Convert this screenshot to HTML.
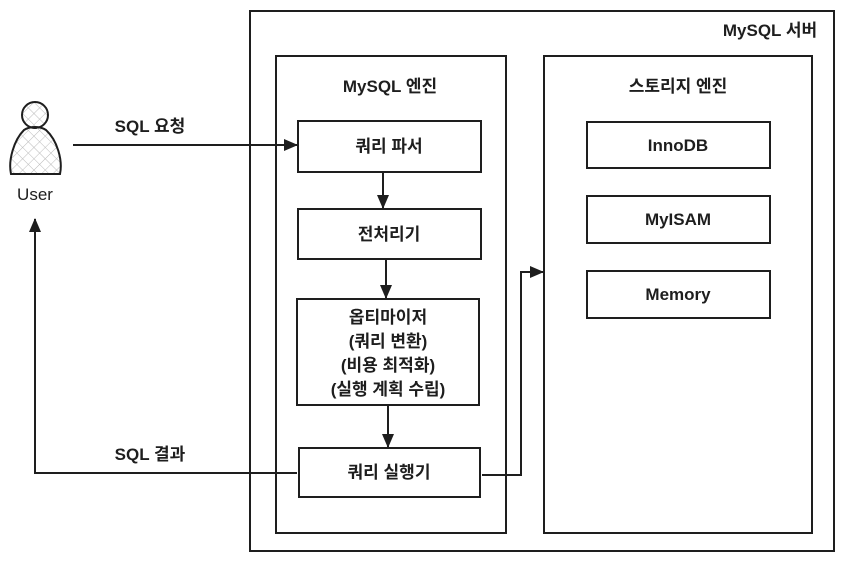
<!DOCTYPE html>
<html><head><meta charset="utf-8"><style>
html,body{margin:0;padding:0;background:#fff;}
svg{display:block;}
text{font-family:"Liberation Sans","Noto Sans CJK KR",sans-serif;font-weight:bold;font-size:17px;fill:#1e1e1e;text-anchor:middle;}
</style></head><body>
<svg width="844" height="561" viewBox="0 0 844 561" xmlns="http://www.w3.org/2000/svg">
<defs>
<pattern id="hatch" width="8" height="8" patternUnits="userSpaceOnUse" patternTransform="rotate(45)">
<line x1="0" y1="0" x2="0" y2="8" stroke="#bbb" stroke-width="1"/>
<line x1="0" y1="0" x2="8" y2="0" stroke="#bbb" stroke-width="1"/>
</pattern>
<marker id="ah" markerWidth="14" markerHeight="12" refX="13" refY="6" orient="auto" markerUnits="userSpaceOnUse">
<path d="M0,0 L14,6 L0,12 Z" fill="#1e1e1e"/>
</marker>
</defs>
<g fill="none" stroke="#1e1e1e" stroke-width="2">
<rect x="250" y="11" width="584" height="540"/>
<rect x="276" y="56" width="230" height="477"/>
<rect x="544" y="56" width="268" height="477"/>
<rect x="298" y="121" width="183" height="51"/>
<rect x="298" y="209" width="183" height="50"/>
<rect x="297" y="299" width="182" height="106"/>
<rect x="299" y="448" width="181" height="49"/>
<rect x="587" y="122" width="183" height="46"/>
<rect x="587" y="196" width="183" height="47"/>
<rect x="587" y="271" width="183" height="47"/>
<circle cx="35" cy="115" r="13" fill="url(#hatch)"/>
<path d="M24,130 C14,140 8,160 11,174 L60,174 C63,160 57,140 46,130 C40,126 30,126 24,130 Z" fill="url(#hatch)"/>
<line x1="73" y1="145" x2="297" y2="145" marker-end="url(#ah)"/>
<line x1="383" y1="172" x2="383" y2="208" marker-end="url(#ah)"/>
<line x1="386" y1="259" x2="386" y2="298" marker-end="url(#ah)"/>
<line x1="388" y1="405" x2="388" y2="447" marker-end="url(#ah)"/>
<polyline points="297,473 35,473 35,219" marker-end="url(#ah)"/>
<polyline points="482,475 521,475 521,272 543,272" marker-end="url(#ah)"/>
</g>
<text x="770" y="36">MySQL 서버</text>
<text x="390" y="92">MySQL 엔진</text>
<text x="678" y="92">스토리지 엔진</text>
<text x="389" y="152">쿼리 파서</text>
<text x="389" y="240">전처리기</text>
<text x="388" y="323">옵티마이저</text>
<text x="388" y="347">(쿼리 변환)</text>
<text x="388" y="371">(비용 최적화)</text>
<text x="388" y="395">(실행 계획 수립)</text>
<text x="389" y="478">쿼리 실행기</text>
<text x="678" y="151">InnoDB</text>
<text x="678" y="225">MyISAM</text>
<text x="678" y="300">Memory</text>
<text x="150" y="132">SQL 요청</text>
<text x="150" y="460">SQL 결과</text>
<text x="35" y="200" style="font-weight:normal;font-size:17px">User</text>
</svg>
</body></html>
